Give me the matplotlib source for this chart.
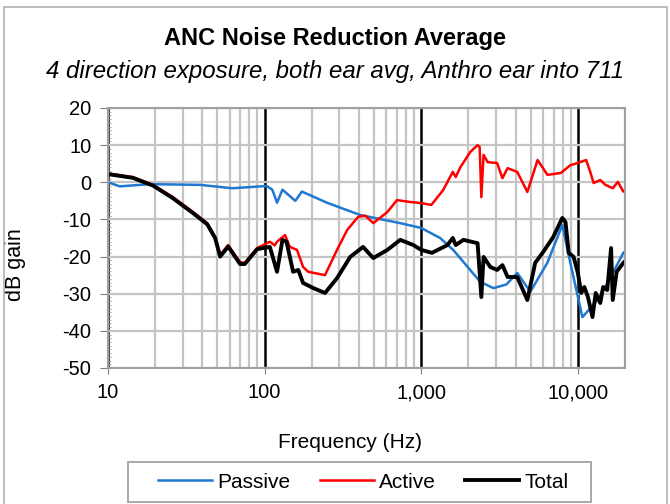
import matplotlib
matplotlib.use('Agg')
import matplotlib.pyplot as plt
import matplotlib.ticker as mticker
from matplotlib.patches import Rectangle
import numpy as np

plt.rcParams['font.family'] = ['Liberation Sans', 'DejaVu Sans']
plt.rcParams['axes.unicode_minus'] = False

# Passive (blue)
f_passive = [10, 11.9, 18.5, 38.8, 62, 103, 112, 120, 130, 157, 173, 250, 407, 735,
             1000, 1320, 1600, 2380, 2890, 3500, 4100, 4970, 6380, 7960, 8950,
             10690, 13340, 16000, 19500, 20300]
passive = [0, -1.1, -0.5, -0.7, -1.6, -1.0, -2.0, -5.5, -2.0, -5.0, -2.5, -5.5, -8.8, -11.0,
           -12.3, -15.0, -18.2, -26.8, -28.5, -27.5, -24.4, -29.5, -21.7, -11.5, -21.7,
           -36.3, -31.7, -26.0, -19.0, -18.5]

# Active (red)
f_active = [10, 14.4, 19.4, 26, 34.9, 43, 48.3, 52, 58.5, 69.7, 74.7, 89.6, 98, 108,
            116, 120, 135, 145, 161, 176, 190, 243, 290, 337, 396, 440, 494, 608,
            700, 850, 1000, 1160, 1380, 1590, 1660, 1780, 2060, 2290, 2360, 2420,
            2500, 2660, 3050, 3300, 3560, 4100, 4760, 5530, 6400, 7780, 8950, 10000,
            11300, 12000, 12600, 13900, 15000, 16700, 18000, 19500, 20300]
active = [2.4, 1.4, -0.7, -4.0, -8.0, -11.0, -14.7, -19.6, -16.9, -21.5, -21.7, -17.7, -16.9, -16.0,
          -17.0, -16.0, -14.2, -17.4, -18.2, -22.8, -24.1, -25.0, -18.2, -12.8, -9.3, -9.0, -11.0, -8.0,
          -4.8, -5.3, -5.6, -6.1, -2.1, 2.8, 1.4, 4.1, 8.2, 10.0, 9.5, -4.0,
          7.4, 5.4, 5.2, 1.1, 3.8, 2.8, -2.6, 6.0, 2.0, 2.5, 4.6, 5.2,
          6.0, 2.8, -0.2, 0.6, -0.7, -1.6, 0.1, -2.5, -2.0]

# Total (black)
f_total = [10, 14.4, 19.4, 26, 34.9, 43, 48.3, 52, 58.5, 69.7, 74.7, 89.6, 98, 108,
           120, 130, 138, 152, 164, 176, 205, 243, 290, 352, 425, 494, 608, 735, 890,
           1000, 1170, 1470, 1590, 1660, 1860, 2290, 2420, 2500, 2760, 3050, 3300,
           3560, 4100, 4760, 5340, 6000, 6970, 7960, 8340, 8740, 9400, 10000, 10500,
           11000, 11600, 12400, 13000, 13900, 14500, 15400, 16300, 16700, 17700, 19500, 20300]
total = [2.2, 1.2, -0.9, -4.3, -8.3, -11.3, -15.0, -20.0, -17.3, -22.0, -22.0, -18.0, -17.7, -17.4,
         -24.1, -15.5, -16.0, -24.1, -23.6, -27.1, -28.5, -29.8, -25.8, -20.1, -17.4, -20.4, -18.2, -15.5, -16.9,
         -18.2, -19.0, -16.9, -15.0, -16.9, -15.5, -16.4, -30.9, -20.1, -22.8, -23.6, -22.3,
         -25.5, -25.5, -31.7, -21.7, -18.8, -14.7, -9.6, -10.7, -19.0, -20.1, -24.4, -29.8,
         -28.2, -30.9, -36.3, -29.8, -32.5, -28.2, -29.0, -17.7, -31.7, -24.1, -21.7, -21.0]

fig = plt.figure(figsize=(6.7, 5.04), dpi=100)
ax = fig.add_axes([108/670, 1-368/504, 517/670, 260/504])

ax.plot(f_passive, passive, color='#1f78d1', lw=1.8, label='Passive')
ax.plot(f_active, active, color='#ff0000', lw=1.8, label='Active')
ax.plot(f_total, total, color='black', lw=2.8, label='Total')

ax.set_xscale('log')
ax.set_xlim(10, 20000)
ax.set_ylim(-50, 20)
ax.set_yticks(np.arange(-50, 21, 10))
ax.yaxis.set_minor_locator(mticker.MultipleLocator(1))
ax.set_xticks([10, 100, 1000, 10000])
ax.xaxis.set_major_formatter(mticker.FuncFormatter(lambda v, p: '{:,.0f}'.format(v)))
ax.xaxis.set_minor_locator(mticker.LogLocator(base=10, subs=np.arange(2, 10)))
ax.xaxis.set_minor_formatter(mticker.NullFormatter())

ax.grid(True, which='major', axis='x', color='black', lw=1.8)
ax.grid(True, which='minor', axis='x', color='#c4c4c4', lw=1.6)
ax.grid(True, which='major', axis='y', color='#c4c4c4', lw=1.6)
ax.set_axisbelow(True)
for s in ax.spines.values():
    s.set_color('#a0a0a0')
    s.set_linewidth(1.5)
ax.tick_params(axis='y', which='major', labelsize=14.5, length=6, color='#808080', pad=6)
ax.tick_params(axis='x', which='major', labelsize=14.5, length=4, color='#808080', pad=7)
ax.tick_params(axis='x', which='minor', length=0)
ax.tick_params(axis='y', which='minor', length=2.5, direction='in', color='#909090')

ax.set_xlabel('Frequency (Hz)', fontsize=15)
ax.xaxis.set_label_coords((350 - 108) / 517, (368 - 433) / 260)
ax.set_ylabel('dB gain', fontsize=15.5)
ax.yaxis.set_label_coords((26 - 108) / 517, (368 - 265) / 260)

fig.text(0.5, 1-38/504, 'ANC Noise Reduction Average', ha='center', va='center',
         fontsize=17, fontweight='bold')
fig.text(0.5, 1-72/504, '4 direction exposure, both ear avg, Anthro ear into 711',
         ha='center', va='center', fontsize=17.3, style='italic')

# legend box
fig.patches.append(Rectangle((128/670, 1-502/504), 463/670, 40/504, transform=fig.transFigure,
                             fill=False, edgecolor='#a8a8a8', lw=1.4))
fig.legend(loc='center left', bbox_to_anchor=(158/670, 1-482/504), ncol=3, fontsize=15,
           frameon=False, handlelength=2.6, handletextpad=0.25, columnspacing=1.4,
           borderpad=0, borderaxespad=0)

# outer chart border
fig.patches.append(Rectangle((4/670, -0.05), 663/670, 1.05 - 7/504, transform=fig.transFigure,
                             fill=False, edgecolor='#b0b0b0', lw=1.2))

fig.savefig('out.png', dpi=100)
